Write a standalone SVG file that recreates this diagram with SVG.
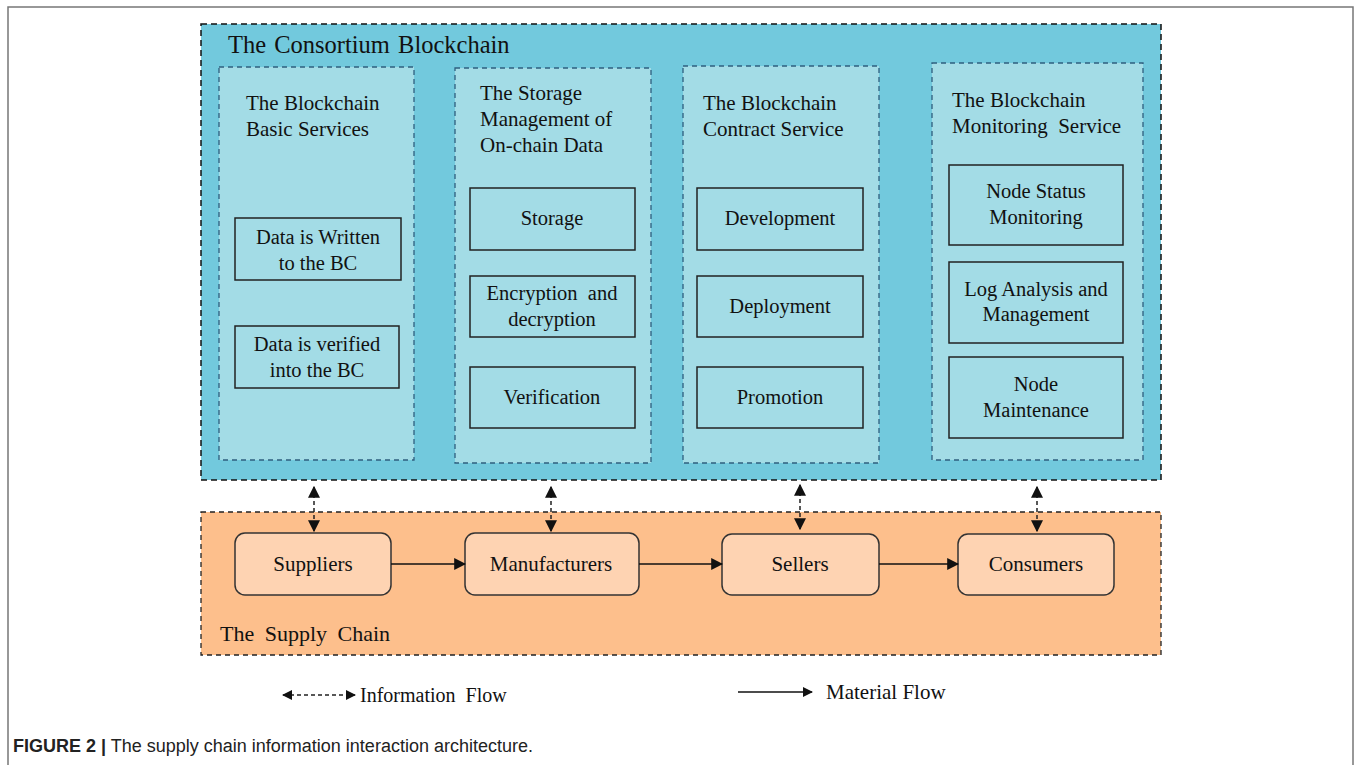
<svg xmlns="http://www.w3.org/2000/svg" width="1356" height="765" viewBox="0 0 1356 765">
<style>
text{font-family:"Liberation Serif","Times New Roman",serif;fill:#111;}
.pt{font-size:21px;}
.b{font-size:20.5px;text-anchor:middle;}
.n{font-size:21px;text-anchor:middle;}
.panel{fill:#A3DCE6;stroke:#2F5F7F;stroke-width:1.3;stroke-dasharray:5,4;}
.box{fill:none;stroke:#222;stroke-width:1.5;}
.node{fill:#FED3B2;stroke:#333;stroke-width:1.5;}
.info{stroke:#222;stroke-width:1.5;stroke-dasharray:4,3;fill:none;}
.mat{stroke:#111;stroke-width:1.5;fill:none;}
</style>
<defs>
<marker id="ah" viewBox="0 0 10 10" refX="9" refY="5" markerWidth="10" markerHeight="10" orient="auto-start-reverse" markerUnits="userSpaceOnUse"><path d="M0,0 L10,5 L0,10 z" fill="#111"/></marker>
<marker id="ah2" viewBox="0 0 10 10" refX="9" refY="5" markerWidth="12" markerHeight="12" orient="auto-start-reverse" markerUnits="userSpaceOnUse"><path d="M0,0 L10,5 L0,10 z" fill="#111"/></marker>
</defs>
<rect x="0" y="0" width="1356" height="765" fill="#fff"/>
<path d="M8,765 V7 H1353 V765" fill="none" stroke="#777" stroke-width="1.5"/>

<g id="consortium">
<rect x="201" y="24" width="960" height="456" fill="#72C9DD" stroke="#111" stroke-width="1.5" stroke-dasharray="6,4"/>
<text x="228" y="53" style="font-size:24.5px;word-spacing:2px">The Consortium Blockchain</text>
</g>

<g id="panel-basic">
<rect class="panel" x="219" y="67" width="195" height="393"/>
<text class="pt" x="246" y="110">The Blockchain</text>
<text class="pt" x="246" y="136">Basic Services</text>
<g id="box-written"><rect class="box" x="235" y="218" width="166" height="62"/>
<text class="b" x="318" y="244">Data is Written</text><text class="b" x="318" y="270">to the BC</text></g>
<g id="box-verified"><rect class="box" x="235" y="326" width="164" height="62"/>
<text class="b" x="317" y="351">Data is verified</text><text class="b" x="317" y="377">into the BC</text></g>
</g>

<g id="panel-storage">
<rect class="panel" x="455" y="68" width="196" height="395"/>
<text class="pt" x="480" y="100">The Storage</text>
<text class="pt" x="480" y="126">Management of</text>
<text class="pt" x="480" y="152">On-chain Data</text>
<g id="box-storage"><rect class="box" x="470" y="188" width="165" height="62"/>
<text class="b" x="552" y="225">Storage</text></g>
<g id="box-encryption"><rect class="box" x="470" y="276" width="165" height="61"/>
<text class="b" x="552" y="300" xml:space="preserve">Encryption  and</text><text class="b" x="552" y="326">decryption</text></g>
<g id="box-verification"><rect class="box" x="470" y="367" width="165" height="61"/>
<text class="b" x="552" y="404">Verification</text></g>
</g>

<g id="panel-contract">
<rect class="panel" x="683" y="66" width="196" height="397"/>
<text class="pt" x="703" y="110">The Blockchain</text>
<text class="pt" x="703" y="136">Contract Service</text>
<g id="box-development"><rect class="box" x="697" y="188" width="166" height="62"/>
<text class="b" x="780" y="225">Development</text></g>
<g id="box-deployment"><rect class="box" x="697" y="276" width="166" height="61"/>
<text class="b" x="780" y="313">Deployment</text></g>
<g id="box-promotion"><rect class="box" x="697" y="367" width="166" height="61"/>
<text class="b" x="780" y="404">Promotion</text></g>
</g>

<g id="panel-monitoring">
<rect class="panel" x="932" y="63" width="211" height="397"/>
<text class="pt" x="952" y="107">The Blockchain</text>
<text class="pt" x="952" y="133" xml:space="preserve">Monitoring  Service</text>
<g id="box-nodestatus"><rect class="box" x="949" y="165" width="174" height="80"/>
<text class="b" x="1036" y="198">Node Status</text><text class="b" x="1036" y="224">Monitoring</text></g>
<g id="box-log"><rect class="box" x="949" y="262" width="174" height="81"/>
<text class="b" x="1036" y="296">Log Analysis and</text><text class="b" x="1036" y="321">Management</text></g>
<g id="box-maint"><rect class="box" x="949" y="357" width="174" height="81"/>
<text class="b" x="1036" y="391">Node</text><text class="b" x="1036" y="417">Maintenance</text></g>
</g>

<g id="supply-chain">
<rect x="201" y="512" width="960" height="143" fill="#FDBF8C" stroke="#222" stroke-width="1.3" stroke-dasharray="5,4"/>
<text x="220" y="641" style="font-size:22px;word-spacing:5px">The Supply Chain</text>
</g>
<g id="node-suppliers"><rect class="node" x="235" y="533" width="156" height="62" rx="10"/><text class="n" x="313" y="571">Suppliers</text></g>
<g id="node-manufacturers"><rect class="node" x="465" y="533" width="174" height="62" rx="10"/><text class="n" x="551" y="571">Manufacturers</text></g>
<g id="node-sellers"><rect class="node" x="722" y="534" width="157" height="61" rx="10"/><text class="n" x="800" y="571">Sellers</text></g>
<g id="node-consumers"><rect class="node" x="958" y="534" width="156" height="61" rx="10"/><text class="n" x="1036" y="571">Consumers</text></g>

<g id="connectors">
<line class="info" x1="314" y1="487" x2="314" y2="531" marker-start="url(#ah2)" marker-end="url(#ah2)"/>
<line class="info" x1="551" y1="487" x2="551" y2="531" marker-start="url(#ah2)" marker-end="url(#ah2)"/>
<line class="info" x1="800" y1="485" x2="800" y2="529" marker-start="url(#ah2)" marker-end="url(#ah2)"/>
<line class="info" x1="1037" y1="487" x2="1037" y2="531" marker-start="url(#ah2)" marker-end="url(#ah2)"/>
<line class="mat" x1="391" y1="564" x2="465" y2="564" marker-end="url(#ah2)"/>
<line class="mat" x1="639" y1="564" x2="722" y2="564" marker-end="url(#ah2)"/>
<line class="mat" x1="879" y1="564" x2="958" y2="564" marker-end="url(#ah2)"/>
</g>

<g id="legend">
<line class="info" x1="283" y1="695" x2="355" y2="695" stroke-width="1.3" stroke-dasharray="5,4" marker-start="url(#ah)" marker-end="url(#ah)"/>
<text x="360" y="702" style="font-size:20px" xml:space="preserve">Information  Flow</text>
<line class="mat" x1="738" y1="692" x2="812" y2="692" stroke-width="1.3" marker-end="url(#ah)"/>
<text x="826" y="699" style="font-size:21px">Material Flow</text>
</g>

<text x="13" y="752" style="font-family:'Liberation Sans',Arial,sans-serif;font-size:18px;fill:#222"><tspan font-weight="bold">FIGURE 2 |</tspan> The supply chain information interaction architecture.</text>
</svg>
